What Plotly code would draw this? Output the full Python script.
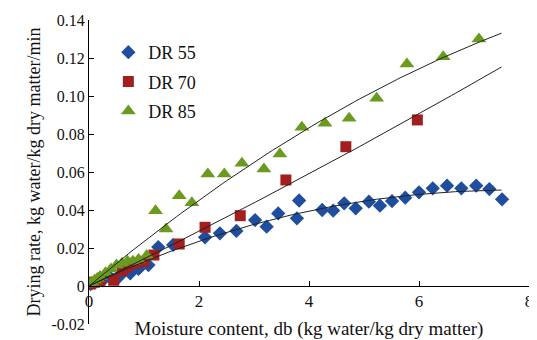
import numpy as np
import plotly.graph_objects as go

# DR 55 (blue diamonds)
dr55_x = [0.03, 0.12, 0.25, 0.4, 0.55, 0.75, 0.9, 1.08, 1.26, 1.53, 2.11, 2.38, 2.68, 3.02, 3.23,
          3.44, 3.78, 3.82, 4.24, 4.44, 4.64, 4.85, 5.09, 5.29, 5.51, 5.75, 6.0, 6.25, 6.51,
          6.77, 7.04, 7.28, 7.51]
dr55_y = [0.001, 0.002, 0.003, 0.004, 0.005, 0.0067, 0.009, 0.011, 0.0205, 0.0216, 0.0256, 0.0277,
          0.029, 0.0347, 0.0312, 0.0382, 0.0356, 0.045, 0.040, 0.0397, 0.0435, 0.0409, 0.0444,
          0.0423, 0.0447, 0.0465, 0.0493, 0.0514, 0.0528, 0.0514, 0.0528, 0.051, 0.0456]

# DR 70 (red squares)
dr70_x = [0.02, 0.1, 0.2, 0.45, 0.6, 0.7, 0.85, 1.0, 1.18, 1.64, 2.11, 2.75, 3.58, 4.67, 5.97]
dr70_y = [0.001, 0.002, 0.003, 0.003, 0.008, 0.01, 0.012, 0.013, 0.0163, 0.0221, 0.0309, 0.037,
          0.0558, 0.0733, 0.0874]

# DR 85 (green triangles)
dr85_x = [0.02, 0.05, 0.1, 0.15, 0.2, 0.3, 0.4, 0.5, 0.6, 0.7, 0.8, 0.9, 1.05, 1.21, 1.40, 1.64,
          1.87, 2.16, 2.46, 2.78, 3.18, 3.47, 3.87, 4.29, 4.73, 5.23, 5.78, 6.44, 7.09]
dr85_y = [0.001, 0.002, 0.003, 0.004, 0.005, 0.007, 0.009, 0.011, 0.012, 0.013, 0.013, 0.014,
          0.016, 0.0396, 0.030, 0.0475, 0.0438, 0.059, 0.059, 0.0646, 0.0616, 0.0695, 0.0835,
          0.0856, 0.0883, 0.0988, 0.1168, 0.1207, 0.130]

x_ticks = [0, 2, 4, 6, 8]
y_ticks = [-0.02, 0, 0.02, 0.04, 0.06, 0.08, 0.10, 0.12, 0.14]
y_tick_text = ["-0.02", "0", "0.02", "0.04", "0.06", "0.08", "0.10", "0.12", "0.14"]
trend_end = 7.5

series = [
    ("DR 55", dr55_x, dr55_y, "diamond", "#1F4E9E", 11, 3),
    ("DR 70", dr70_x, dr70_y, "square", "#A31F1F", 11, 2),
    ("DR 85", dr85_x, dr85_y, "triangle-up", "#6B9B1E", 13, 2),
]

font = "Liberation Serif"
fig = go.Figure()

for name, xs, ys, sym, col, sz, deg in series:
    fig.add_trace(go.Scatter(
        x=xs, y=ys, mode="markers", name=name, legendgroup=name,
        marker=dict(symbol=sym, color=col, size=sz, line=dict(width=0)),
    ))

for name, xs, ys, sym, col, sz, deg in series:
    xa = np.array(xs)
    ya = np.array(ys)
    A = np.vstack([xa ** k for k in range(1, deg + 1)]).T
    coef, *_ = np.linalg.lstsq(A, ya, rcond=None)
    xf = np.linspace(0, trend_end, 100)
    yf = sum(c * xf ** (k + 1) for k, c in enumerate(coef))
    fig.add_trace(go.Scatter(
        x=xf, y=yf, mode="lines", showlegend=False,
        line=dict(color="#222222", width=1), hoverinfo="skip",
    ))

# page body has an 8px margin, so the figure is shrunk by 8px and margins offset
fig.update_layout(
    width=529, height=332,
    margin=dict(l=81, r=8, t=12, b=16),
    paper_bgcolor="white", plot_bgcolor="white",
    font=dict(family=font, size=16, color="#111111"),
    showlegend=True,
    legend=dict(x=0.044, y=0.954, xanchor="left", yanchor="top",
                bgcolor="rgba(0,0,0,0)", font=dict(family=font, size=18),
                traceorder="grouped", tracegroupgap=3),
    xaxis=dict(range=[0, 8], tickvals=x_ticks, ticktext=[str(v) for v in x_ticks],
               tickfont=dict(family=font, size=17),
               showgrid=False, zeroline=False, showline=True, linecolor="black", linewidth=1,
               ticks="inside", ticklen=5, tickcolor="black", automargin=False,
               anchor="free", position=0.125,
               title=dict(text="Moisture content, db (kg water/kg dry matter)", standoff=11,
                          font=dict(family=font, size=19))),
    yaxis=dict(range=[-0.02, 0.14], tickvals=y_ticks, ticktext=y_tick_text,
               tickfont=dict(family=font, size=16),
               showgrid=False, zeroline=False, showline=True, linecolor="black", linewidth=1,
               ticks="inside", ticklen=5, tickcolor="black", automargin=False,
               title=dict(text="Drying rate, kg water/kg dry matter/min", standoff=6,
                          font=dict(family=font, size=18))),
)

fig.write_html("out.html")
